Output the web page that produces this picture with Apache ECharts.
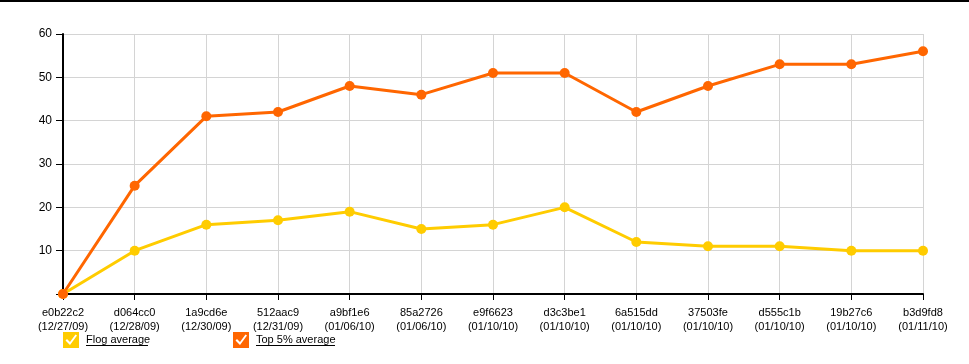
<!DOCTYPE html>
<html>
<head>
<meta charset="utf-8">
<script src="https://cdn.jsdelivr.net/npm/echarts@6/dist/echarts.min.js"></script>
<style>
html,body{margin:0;padding:0;background:#fff;}
#c{width:969px;height:364px;}
</style>
</head>
<body>
<div id="c"></div>
<script>
const commits = ['e0b22c2','d064cc0','1a9cd6e','512aac9','a9bf1e6','85a2726','e9f6623','d3c3be1','6a515dd','37503fe','d555c1b','19b27c6','b3d9fd8'];
const dates = ['12/27/09','12/28/09','12/30/09','12/31/09','01/06/10','01/06/10','01/10/10','01/10/10','01/10/10','01/10/10','01/10/10','01/10/10','01/11/10'];
const flogAverage = [0, 10, 16, 17, 19, 15, 16, 20, 12, 11, 11, 10, 10];
const top5Average = [0, 25, 41, 42, 48, 46, 51, 51, 42, 48, 53, 53, 56];
const yTicks = [0, 10, 20, 30, 40, 50, 60];

const categories = commits.map((c, i) => c + '\n(' + dates[i] + ')');
const FONT = 'Liberation Sans, Arial, sans-serif';
const checkIcon = 'path://M0 0L16 0L16 16L0 16Z M2.5 8.5L7 13L14 3.5L12.5 2.5L7 10L4 7Z';

const chart = echarts.init(document.getElementById('c'), null, {renderer: 'canvas'});
chart.setOption({
  animation: false,
  textStyle: {fontFamily: FONT},
  grid: {left: 63, right: 46, top: 34, bottom: 70, containLabel: false},
  legend: [
    {data: ['Flog average'], left: 63, top: 332, padding: 0, itemWidth: 16, itemHeight: 16, itemGap: 0,
     icon: checkIcon, textStyle: {fontSize: 11, color: '#000', fontFamily: FONT, padding: [0, 0, 0, 2]}},
    {data: ['Top 5% average'], left: 233, top: 332, padding: 0, itemWidth: 16, itemHeight: 16, itemGap: 0,
     icon: checkIcon, textStyle: {fontSize: 11, color: '#000', fontFamily: FONT, padding: [0, 0, 0, 2]}}
  ],
  graphic: [
    {type: 'rect', left: 0, top: 0, shape: {width: 969, height: 2}, style: {fill: '#000'}, silent: true},
    {type: 'line', shape: {x1: 86, y1: 345.5, x2: 148, y2: 345.5}, style: {stroke: '#000', lineWidth: 1}, silent: true},
    {type: 'line', shape: {x1: 256, y1: 345.5, x2: 335, y2: 345.5}, style: {stroke: '#000', lineWidth: 1}, silent: true}
  ],
  xAxis: {
    type: 'category',
    data: categories,
    boundaryGap: false,
    axisLine: {lineStyle: {color: '#000', width: 2}},
    axisTick: {show: true, length: 6, lineStyle: {color: '#000', width: 1}, alignWithLabel: true},
    axisLabel: {interval: 0, fontSize: 11, color: '#000', lineHeight: 14, margin: 12, fontFamily: FONT},
    splitLine: {show: true, lineStyle: {color: '#d4d4d4', width: 1}}
  },
  yAxis: {
    type: 'value',
    min: yTicks[0],
    max: yTicks[yTicks.length - 1],
    interval: 10,
    axisLine: {show: true, lineStyle: {color: '#000', width: 2}},
    axisTick: {show: true, length: 7, lineStyle: {color: '#000', width: 1}},
    axisLabel: {fontSize: 12, color: '#000', margin: 11, fontFamily: FONT,
      formatter: v => (v === 0 ? '' : String(v))},
    splitLine: {show: true, lineStyle: {color: '#d4d4d4', width: 1}}
  },
  series: [
    {name: 'Flog average', type: 'line', data: flogAverage, color: '#FFCC00',
     symbol: 'circle', symbolSize: 10, showAllSymbol: true,
     lineStyle: {width: 3, color: '#FFCC00'}, itemStyle: {color: '#FFCC00'}},
    {name: 'Top 5% average', type: 'line', data: top5Average, color: '#FF6600',
     symbol: 'circle', symbolSize: 10, showAllSymbol: true,
     lineStyle: {width: 3, color: '#FF6600'}, itemStyle: {color: '#FF6600'}}
  ]
});
</script>
</body>
</html>
